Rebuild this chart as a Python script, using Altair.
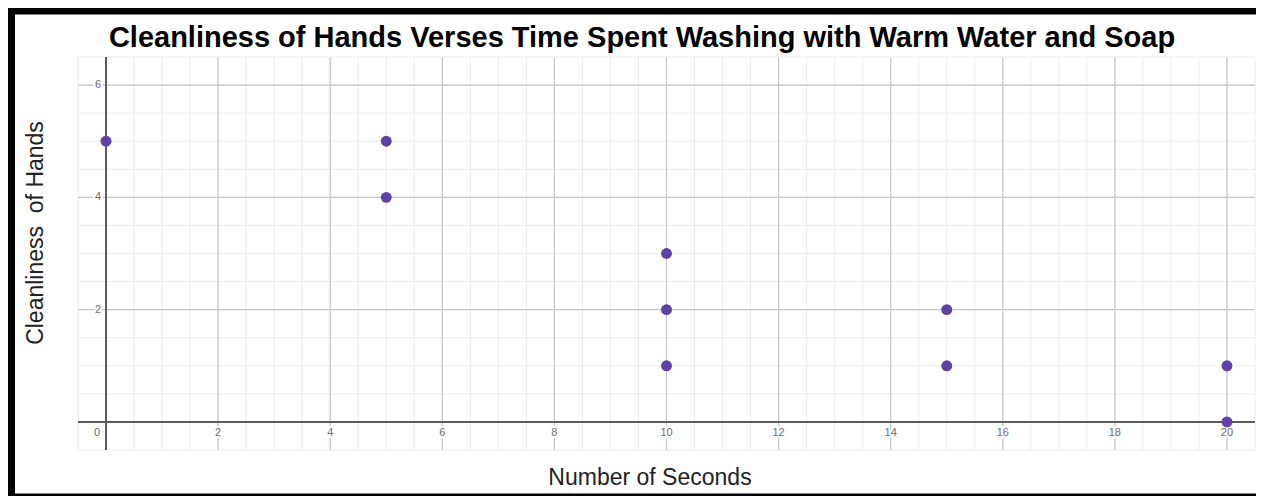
import altair as alt
import pandas as pd

# ---- data ----
seconds = [0, 5, 5, 10, 10, 10, 15, 15, 20, 20]
cleanliness = [5, 5, 4, 3, 2, 1, 2, 1, 1, 0]

x_tick_values = [2, 4, 6, 8, 10, 12, 14, 16, 18, 20]
x_tick_labels = ["2", "4", "6", "8", "10", "12", "14", "16", "18", "20"]
y_tick_values = [2, 4, 6]
y_tick_labels = ["2", "4", "6"]
origin_label = ["0"]

x_major_grid = [0, 2, 4, 6, 8, 10, 12, 14, 16, 18, 20]
y_major_grid = [0, 2, 4, 6]
x_minor_grid = [i * 0.5 for i in range(-1, 42)]
y_minor_grid = [i * 0.5 for i in range(-1, 14)]

title_text = "Cleanliness of Hands Verses Time Spent Washing with Warm Water and Soap"
x_title = "Number of Seconds"
y_title = "Cleanliness\u00a0 of Hands"

W, H = 1177, 393
FONT = "Liberation Sans"

xs = alt.Scale(domain=[-0.5, 20.5], nice=False, zero=False)
ys = alt.Scale(domain=[-0.5, 6.5], nice=False, zero=False)

pts_df = pd.DataFrame({"s": seconds, "c": cleanliness})
xminor_df = pd.DataFrame({"v": x_minor_grid})
yminor_df = pd.DataFrame({"v": y_minor_grid})
xmajor_df = pd.DataFrame({"v": x_major_grid})
ymajor_df = pd.DataFrame({"v": y_major_grid})
xlab_df = pd.DataFrame({"v": x_tick_values, "t": x_tick_labels, "z": [0] * len(x_tick_values)})
ylab_df = pd.DataFrame({"v": y_tick_values, "t": y_tick_labels, "z": [0] * len(y_tick_values)})
orig_df = pd.DataFrame({"t": origin_label, "z": [0]})

vminor = alt.Chart(xminor_df).mark_rule(color="#ececec", strokeWidth=1).encode(
    x=alt.X("v:Q", scale=xs, axis=None))
hminor = alt.Chart(yminor_df).mark_rule(color="#ececec", strokeWidth=1).encode(
    y=alt.Y("v:Q", scale=ys, axis=None))
vmajor = alt.Chart(xmajor_df).mark_rule(color="#c6c6c6", strokeWidth=1.2).encode(
    x=alt.X("v:Q", scale=xs, axis=None))
hmajor = alt.Chart(ymajor_df).mark_rule(color="#c6c6c6", strokeWidth=1.2).encode(
    y=alt.Y("v:Q", scale=ys, axis=None))

xaxis_line = alt.Chart(orig_df).mark_rule(color="#5a5a5a", strokeWidth=2).encode(
    y=alt.Y("z:Q", scale=ys, axis=None))
yaxis_line = alt.Chart(orig_df).mark_rule(color="#5a5a5a", strokeWidth=2).encode(
    x=alt.X("z:Q", scale=xs, axis=None))

lab_common = dict(font=FONT, fontSize=11, color="#6e6e6e")
halo = dict(font=FONT, fontSize=11, color="white", stroke="white", strokeWidth=4)

xlab_halo = alt.Chart(xlab_df).mark_text(align="center", baseline="middle", dy=11, **halo).encode(
    x=alt.X("v:Q", scale=xs, axis=None), y=alt.Y("z:Q", scale=ys, axis=None), text="t:N")
xlab = alt.Chart(xlab_df).mark_text(align="center", baseline="middle", dy=11, **lab_common).encode(
    x=alt.X("v:Q", scale=xs, axis=None), y=alt.Y("z:Q", scale=ys, axis=None), text="t:N")
ylab_halo = alt.Chart(ylab_df).mark_text(align="right", baseline="middle", dx=-5, **halo).encode(
    x=alt.X("z:Q", scale=xs, axis=None), y=alt.Y("v:Q", scale=ys, axis=None), text="t:N")
ylab = alt.Chart(ylab_df).mark_text(align="right", baseline="middle", dx=-5, **lab_common).encode(
    x=alt.X("z:Q", scale=xs, axis=None), y=alt.Y("v:Q", scale=ys, axis=None), text="t:N")
olab = alt.Chart(orig_df).mark_text(align="center", baseline="middle", dx=-9, dy=11, **lab_common).encode(
    x=alt.X("z:Q", scale=xs, axis=None), y=alt.Y("z:Q", scale=ys, axis=None), text="t:N")

points = alt.Chart(pts_df).mark_circle(size=120, opacity=1, color="#6042a6").encode(
    x=alt.X("s:Q", scale=xs, axis=None), y=alt.Y("c:Q", scale=ys, axis=None))

title = alt.Chart(orig_df).mark_text(font=FONT, fontSize=29, fontWeight="bold", color="black",
                                     align="center", baseline="alphabetic").encode(
    x=alt.value(564), y=alt.value(-10), text=alt.value(title_text))
xt = alt.Chart(orig_df).mark_text(font=FONT, fontSize=23, color="#222222",
                                  align="center", baseline="alphabetic").encode(
    x=alt.value(572), y=alt.value(428), text=alt.value(x_title))
yt = alt.Chart(orig_df).mark_text(font=FONT, fontSize=23, color="#222222", angle=270,
                                  align="center", baseline="alphabetic").encode(
    x=alt.value(-35), y=alt.value(176), text=alt.value(y_title))

border = alt.Chart(orig_df).mark_rect(filled=False, stroke="black", strokeWidth=7).encode(
    x=alt.value(-66.5), x2=alt.value(1215), y=alt.value(-46), y2=alt.value(440))

chart = alt.layer(
    vminor, hminor, vmajor, hmajor, xaxis_line, yaxis_line,
    xlab_halo, ylab_halo, xlab, ylab, olab, points, title, xt, yt, border
).properties(
    width=W, height=H,
    padding={"left": 70, "top": 49, "right": 1, "bottom": 46},
    autosize=alt.AutoSizeParams(type="none"),
    background="white",
).configure_view(strokeWidth=0)

chart.save("out.html", embed_options={"renderer": "svg", "actions": False})
